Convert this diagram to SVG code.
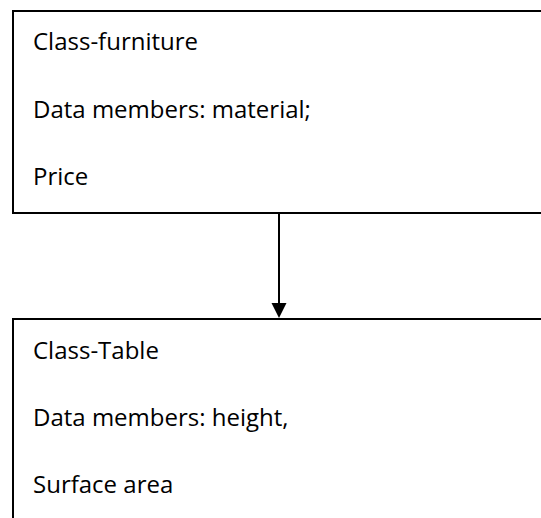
<svg xmlns="http://www.w3.org/2000/svg" width="541" height="518" viewBox="0 0 541 518">
  <defs>
    <style>
      .box { fill: #ffffff; stroke: #000000; stroke-width: 2; }
      .label { font-family: "Open Sans", "Noto Sans", "Liberation Sans", sans-serif; font-size: 24px; fill: #000000; }
      .link { stroke: #000000; stroke-width: 2; fill: none; }
    </style>
    <marker id="arrowhead" markerWidth="8" markerHeight="8" refX="7.5" refY="4" orient="auto" markerUnits="userSpaceOnUse" viewBox="0 0 8 8">
      <path d="M0,0 L8,4 L0,8 Z" fill="#000000"/>
    </marker>
  </defs>
  <rect width="541" height="518" fill="#ffffff"/>

  <!-- parent class -->
  <g id="class-furniture">
    <rect class="box" x="13" y="11" width="540" height="202"/>
    <text class="label" x="33" y="50">Class-furniture</text>
    <text class="label" x="33" y="117.5">Data members: material;</text>
    <text class="label" x="33" y="185">Price</text>
  </g>

  <!-- derived class -->
  <g id="class-table">
    <rect class="box" x="13" y="319" width="540" height="220"/>
    <text class="label" x="33" y="359">Class-Table</text>
    <text class="label" x="33" y="426">Data members: height,</text>
    <text class="label" x="33" y="493">Surface area</text>
  </g>

  <!-- inheritance connector -->
  <g id="connectors">
    <line class="link" x1="279" y1="213" x2="279" y2="305"/>
    <path d="M271.5,303 L286.5,303 L279,318 Z" fill="#000000"/>
  </g>
</svg>
